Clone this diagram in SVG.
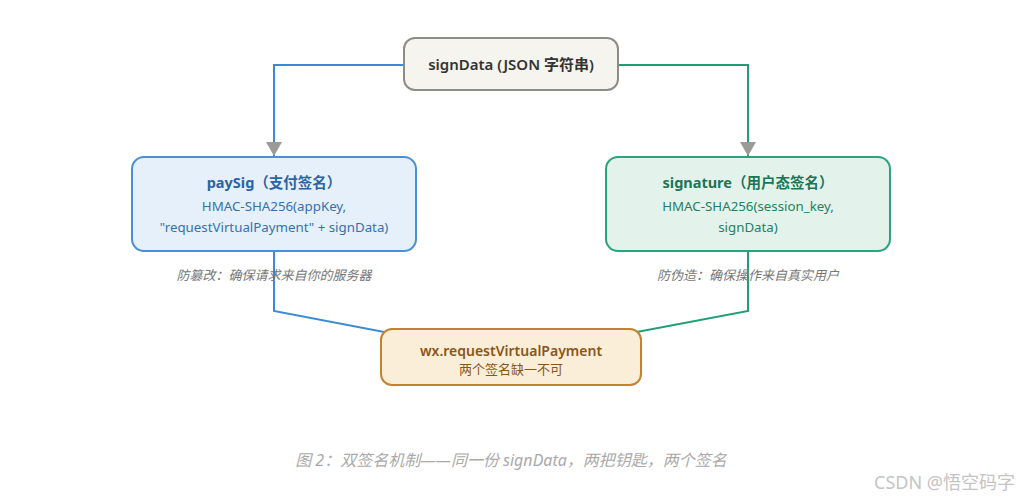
<svg xmlns="http://www.w3.org/2000/svg" width="1021" height="500" viewBox="0 0 1021 500">
<style>
text{font-family:"Noto Sans","Noto Sans CJK SC",sans-serif;text-anchor:middle}
.t{font-size:14.5px;font-weight:bold}
.s{font-size:13.3px}
.a{font-size:13px;font-style:italic;fill:#777}
.blue{stroke:#3a8ad8;stroke-width:2;fill:none}
.green{stroke:#1f9e74;stroke-width:2;fill:none}
</style>
<defs>
<marker id="arr" markerWidth="16" markerHeight="14" refX="8" refY="14" orient="0" markerUnits="userSpaceOnUse">
<path d="M0,0 L16,0 L8,14 Z" fill="#9a9a96"/>
</marker>
</defs>
<rect width="1021" height="500" fill="#fff"/>
<g id="connectors">
<polyline class="blue" points="404,65 274,65 274,156" marker-end="url(#arr)"/>
<polyline class="green" points="618,65 748,65 748,156" marker-end="url(#arr)"/>
<polyline class="blue" points="274,251 274,311 510,356"/>
<polyline class="green" points="748,251 748,311 510,356"/>
</g>
<g id="signData">
<rect x="404" y="38" width="214" height="52" rx="11" fill="#f5f4ef" stroke="#8d8d88" stroke-width="2"/>
<text x="511" y="70" style="font-size:15px;font-weight:600" fill="#333">signData (JSON 字符串)</text>
</g>
<g id="paySig">
<rect x="132" y="157" width="284" height="94" rx="12" fill="#e6f0fa" stroke="#4a90d9" stroke-width="2"/>
<text x="274" y="188" class="t" fill="#2a64a4">paySig（支付签名）</text>
<text x="274" y="211" class="s" fill="#3470b4">HMAC-SHA256(appKey,</text>
<text x="274" y="232" class="s" fill="#3470b4">"requestVirtualPayment" + signData)</text>
</g>
<g id="signature">
<rect x="606" y="157" width="284" height="94" rx="12" fill="#e3f3ec" stroke="#27a57c" stroke-width="2"/>
<text x="748" y="188" class="t" fill="#1d7558">signature（用户态签名）</text>
<text x="748" y="211" class="s" fill="#24805f">HMAC-SHA256(session_key,</text>
<text x="748" y="232" class="s" fill="#24805f">signData)</text>
</g>
<g id="note-left"><text x="274" y="280" class="a">防篡改：确保请求来自你的服务器</text></g>
<g id="note-right"><text x="748" y="280" class="a">防伪造：确保操作来自真实用户</text></g>
<g id="wx">
<rect x="381" y="329" width="260" height="56" rx="11" fill="#fbeed8" stroke="#c28230" stroke-width="2"/>
<text x="511" y="356" style="font-size:14px;font-weight:600" fill="#8a5518">wx.requestVirtualPayment</text>
<text x="511" y="374" style="font-size:13px" fill="#8a5518">两个签名缺一不可</text>
</g>
<text x="511" y="466" style="font-size:16px;font-style:italic" fill="#aaa">图 2：双签名机制——同一份 signData，两把钥匙，两个签名</text>
<text x="1015" y="489" style="font-size:18px;text-anchor:end" fill="#c4c4c4">CSDN @悟空码字</text>
</svg>
